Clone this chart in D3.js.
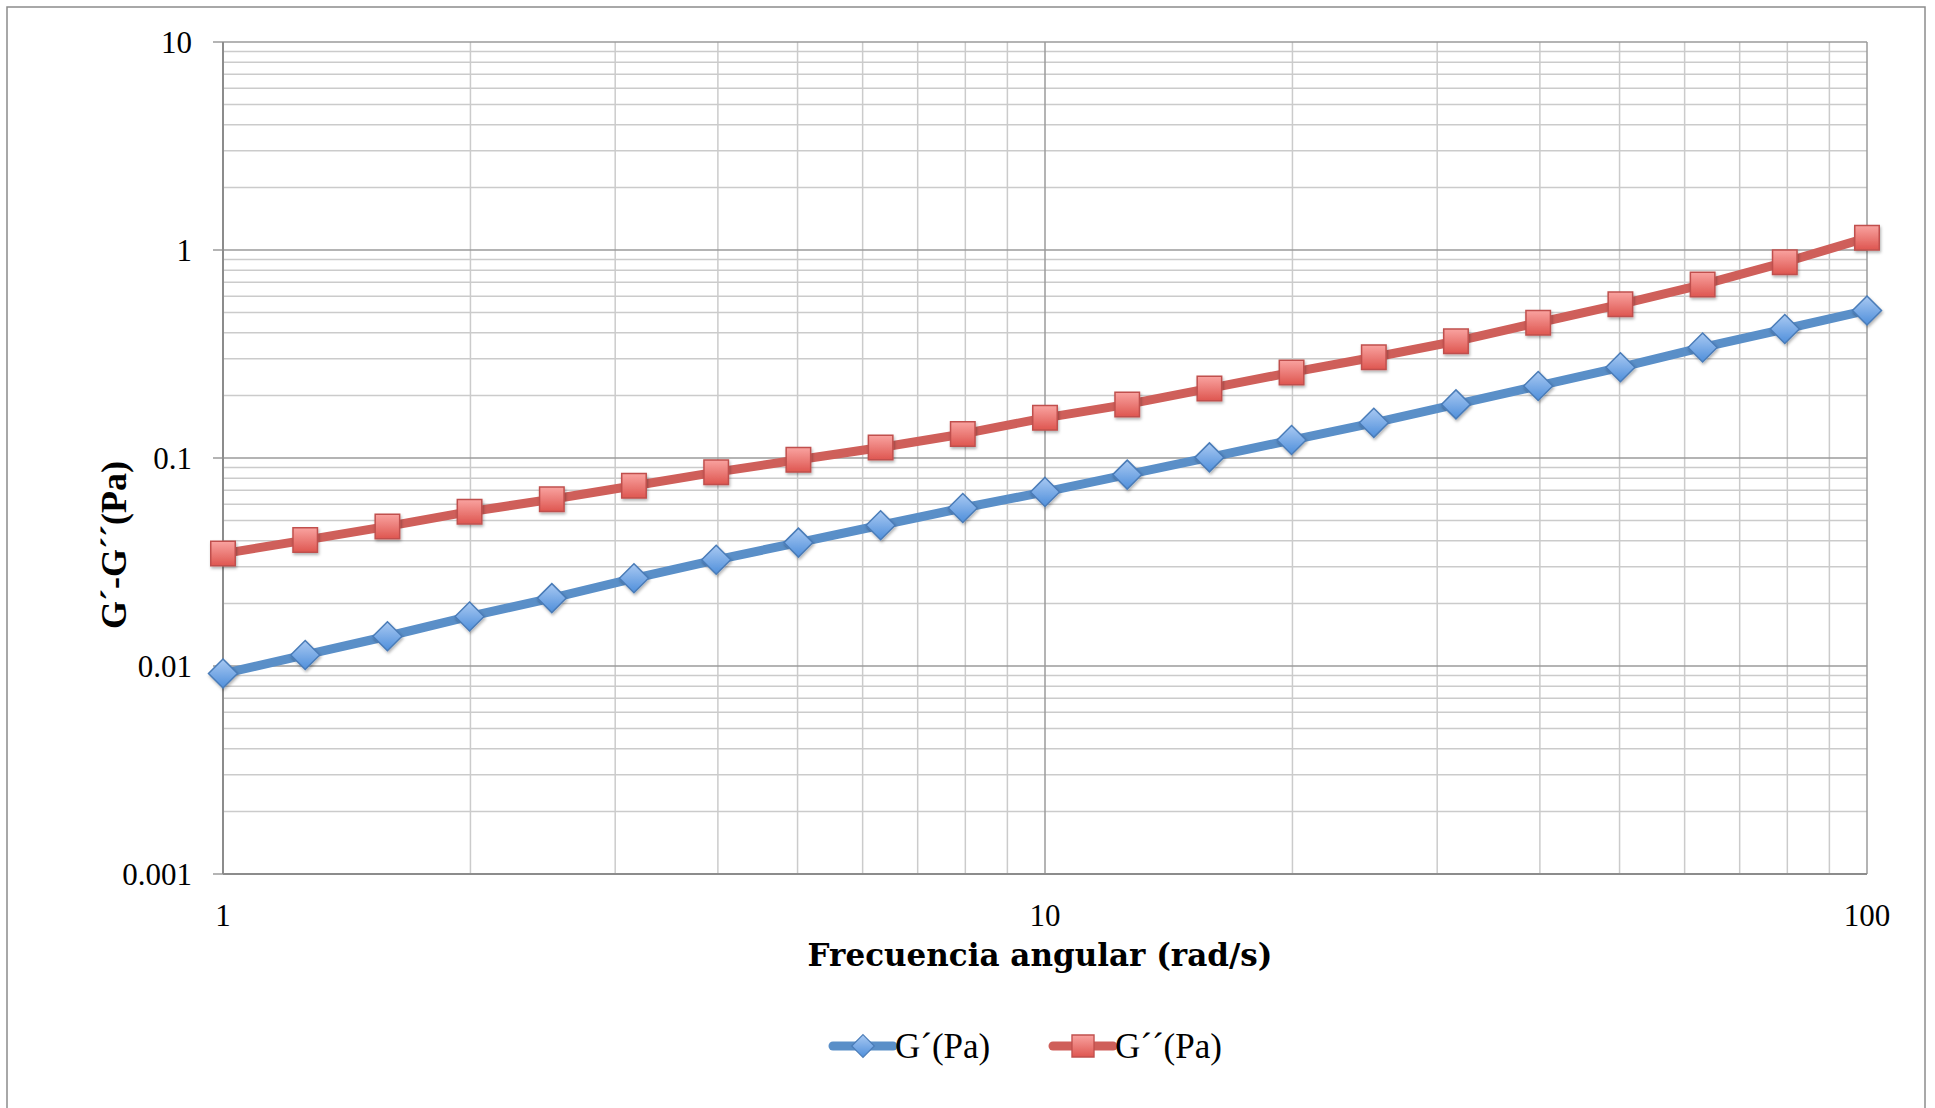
<!DOCTYPE html>
<html>
<head>
<meta charset="utf-8">
<script src="https://cdn.jsdelivr.net/npm/d3@7"></script>
<style>
  body { margin: 0; background: #fff; }
  text { font-family: "Liberation Serif", "DejaVu Serif", serif; fill: #000; }
</style>
</head>
<body>
<div id="chart"></div>
<script>
const width = 1935;
const height = 1108;

// angular frequency (rad/s)
const freq = [1, 1.259, 1.585, 1.995, 2.512, 3.162, 3.981, 5.012, 6.31, 7.943,
  10, 12.59, 15.85, 19.95, 25.12, 31.62, 39.81, 50.12, 63.1, 79.43, 100];
// G' (Pa)
const gPrime = [0.0092, 0.0113, 0.0139, 0.0173, 0.0212, 0.0264, 0.0324, 0.0392, 0.0475, 0.0575,
  0.0687, 0.0832, 0.1007, 0.122, 0.1476, 0.181, 0.222, 0.273, 0.340, 0.417, 0.512];
// G'' (Pa)
const gDouble = [0.0347, 0.0403, 0.0469, 0.0552, 0.0633, 0.0735, 0.0855, 0.098, 0.1123, 0.1305,
  0.156, 0.181, 0.216, 0.258, 0.305, 0.364, 0.447, 0.548, 0.682, 0.873, 1.146];

const yTicks = [0.001, 0.01, 0.1, 1, 10];
const xTicks = [1, 10, 100];
const yTickLabels = ["0.001", "0.01", "0.1", "1", "10"];
const xTickLabels = ["1", "10", "100"];

const seriesNames = ["G\u00B4(Pa)", "G\u00B4\u00B4(Pa)"];
const xTitle = "Frecuencia angular (rad/s)";
const yTitle = "G\u00B4-G\u00B4\u00B4(Pa)";

const plotLeft = 223, plotRight = 1867, plotTop = 42, plotBottom = 874;

const svg = d3.select("#chart").append("svg")
    .attr("width", width)
    .attr("height", height);

// chart border
svg.append("rect")
    .attr("x", 7).attr("y", 7)
    .attr("width", 1918).attr("height", 1120)
    .attr("fill", "#fff")
    .attr("stroke", "#8c8c8c")
    .attr("stroke-width", 1.5);

const x = d3.scaleLog().domain([1, 100]).range([plotLeft, plotRight]);
const y = d3.scaleLog().domain([0.001, 10]).range([plotBottom, plotTop]);

// gradients for markers
const defs = svg.append("defs");
const gradBlue = defs.append("linearGradient").attr("id", "gBlue")
    .attr("x1", 0).attr("y1", 0).attr("x2", 0).attr("y2", 1);
gradBlue.append("stop").attr("offset", "0%").attr("stop-color", "#a9c9f2");
gradBlue.append("stop").attr("offset", "100%").attr("stop-color", "#4f8fdb");
const gradRed = defs.append("linearGradient").attr("id", "gRed")
    .attr("x1", 0).attr("y1", 0).attr("x2", 0).attr("y2", 1);
gradRed.append("stop").attr("offset", "0%").attr("stop-color", "#f9a3a0");
gradRed.append("stop").attr("offset", "100%").attr("stop-color", "#de5650");
const shadow = defs.append("filter").attr("id", "shadow")
    .attr("x", "-30%").attr("y", "-30%").attr("width", "160%").attr("height", "160%");
shadow.append("feDropShadow").attr("dx", 1).attr("dy", 2).attr("stdDeviation", 1.5)
    .attr("flood-color", "#000").attr("flood-opacity", 0.3);

// minor grid lines (2..9 in each decade)
const minorY = [];
for (let d = 0.001; d < 9; d *= 10) {
    for (let k = 2; k <= 9; k++) minorY.push(d * k);
}
const minorX = [];
for (let d = 1; d < 90; d *= 10) {
    for (let k = 2; k <= 9; k++) minorX.push(d * k);
}

const grid = svg.append("g");
grid.selectAll(".my").data(minorY).enter().append("line")
    .attr("x1", plotLeft).attr("x2", plotRight)
    .attr("y1", d => y(d)).attr("y2", d => y(d))
    .attr("stroke", "#cbcbcb").attr("stroke-width", 1.5);
grid.selectAll(".mx").data(minorX).enter().append("line")
    .attr("y1", plotTop).attr("y2", plotBottom)
    .attr("x1", d => x(d)).attr("x2", d => x(d))
    .attr("stroke", "#cbcbcb").attr("stroke-width", 1.5);
grid.selectAll(".My").data(yTicks).enter().append("line")
    .attr("x1", plotLeft - 10).attr("x2", plotRight)
    .attr("y1", d => y(d)).attr("y2", d => y(d))
    .attr("stroke", "#9b9b9b").attr("stroke-width", 1.5);
grid.selectAll(".Mx").data(xTicks).enter().append("line")
    .attr("y1", plotTop).attr("y2", plotBottom)
    .attr("x1", d => x(d)).attr("x2", d => x(d))
    .attr("stroke", "#9b9b9b").attr("stroke-width", 1.5);

// axis lines
svg.append("line").attr("x1", plotLeft).attr("x2", plotLeft).attr("y1", plotTop).attr("y2", plotBottom)
    .attr("stroke", "#8c8c8c").attr("stroke-width", 2);
svg.append("line").attr("x1", plotLeft).attr("x2", plotRight).attr("y1", plotBottom).attr("y2", plotBottom)
    .attr("stroke", "#8c8c8c").attr("stroke-width", 2);

// tick labels
svg.selectAll(".ylab").data(yTicks).enter().append("text")
    .attr("x", 192).attr("y", d => y(d) + 11)
    .attr("text-anchor", "end")
    .style("font-size", "31px")
    .text((d, i) => yTickLabels[i]);
svg.selectAll(".xlab").data(xTicks).enter().append("text")
    .attr("x", d => x(d)).attr("y", 926)
    .attr("text-anchor", "middle")
    .style("font-size", "31px")
    .text((d, i) => xTickLabels[i]);

// axis titles
svg.append("text")
    .attr("x", 1040).attr("y", 966)
    .attr("text-anchor", "middle")
    .style("font-family", "'DejaVu Serif', serif")
    .style("font-size", "31px").style("font-weight", "bold")
    .text(xTitle);
svg.append("text")
    .attr("transform", "translate(126,545) rotate(-90)")
    .attr("text-anchor", "middle")
    .style("font-size", "36px").style("font-weight", "bold")
    .text(yTitle);

const line = d3.line().x(d => x(d[0])).y(d => y(d[1]));

const series = [
    { name: seriesNames[0], values: freq.map((f, i) => [f, gPrime[i]]), color: "#5a8fc8", shape: "diamond", fill: "url(#gBlue)", stroke: "#4a7cb8" },
    { name: seriesNames[1], values: freq.map((f, i) => [f, gDouble[i]]), color: "#cf5f5a", shape: "square", fill: "url(#gRed)", stroke: "#c0504d" }
];

function markerPath(s) {
    if (s.shape === "square") return d3.symbol().type(d3.symbolSquare).size(600)();
    return "M0,-14.5L14.5,0L0,14.5L-14.5,0Z";
}

series.forEach(s => {
    svg.append("path")
        .datum(s.values)
        .attr("d", line)
        .attr("fill", "none")
        .attr("stroke", s.color)
        .attr("stroke-width", 9)
        .attr("stroke-linejoin", "round");
});

series.forEach(s => {
    svg.selectAll(null).data(s.values).enter().append("path")
        .attr("transform", d => `translate(${x(d[0])},${y(d[1])})`)
        .attr("d", markerPath(s))
        .attr("fill", s.fill)
        .attr("stroke", s.stroke)
        .attr("stroke-width", 1.5)
        .attr("filter", "url(#shadow)");
});

// legend
const legendY = 1046;
const legendX = [833, 1053];
series.forEach((s, i) => {
    const g = svg.append("g").attr("transform", `translate(${legendX[i]},${legendY})`);
    g.append("line").attr("x1", 0).attr("x2", 60)
        .attr("stroke", s.color).attr("stroke-width", 9).attr("stroke-linecap", "round");
    g.append("path")
        .attr("transform", `translate(30,0) scale(${s.shape === "square" ? 0.9 : 0.78})`)
        .attr("d", markerPath(s))
        .attr("fill", s.fill).attr("stroke", s.stroke).attr("stroke-width", 1.5);
    g.append("text").attr("x", 62).attr("y", 12)
        .style("font-size", "35px")
        .text(s.name);
});
</script>
</body>
</html>
